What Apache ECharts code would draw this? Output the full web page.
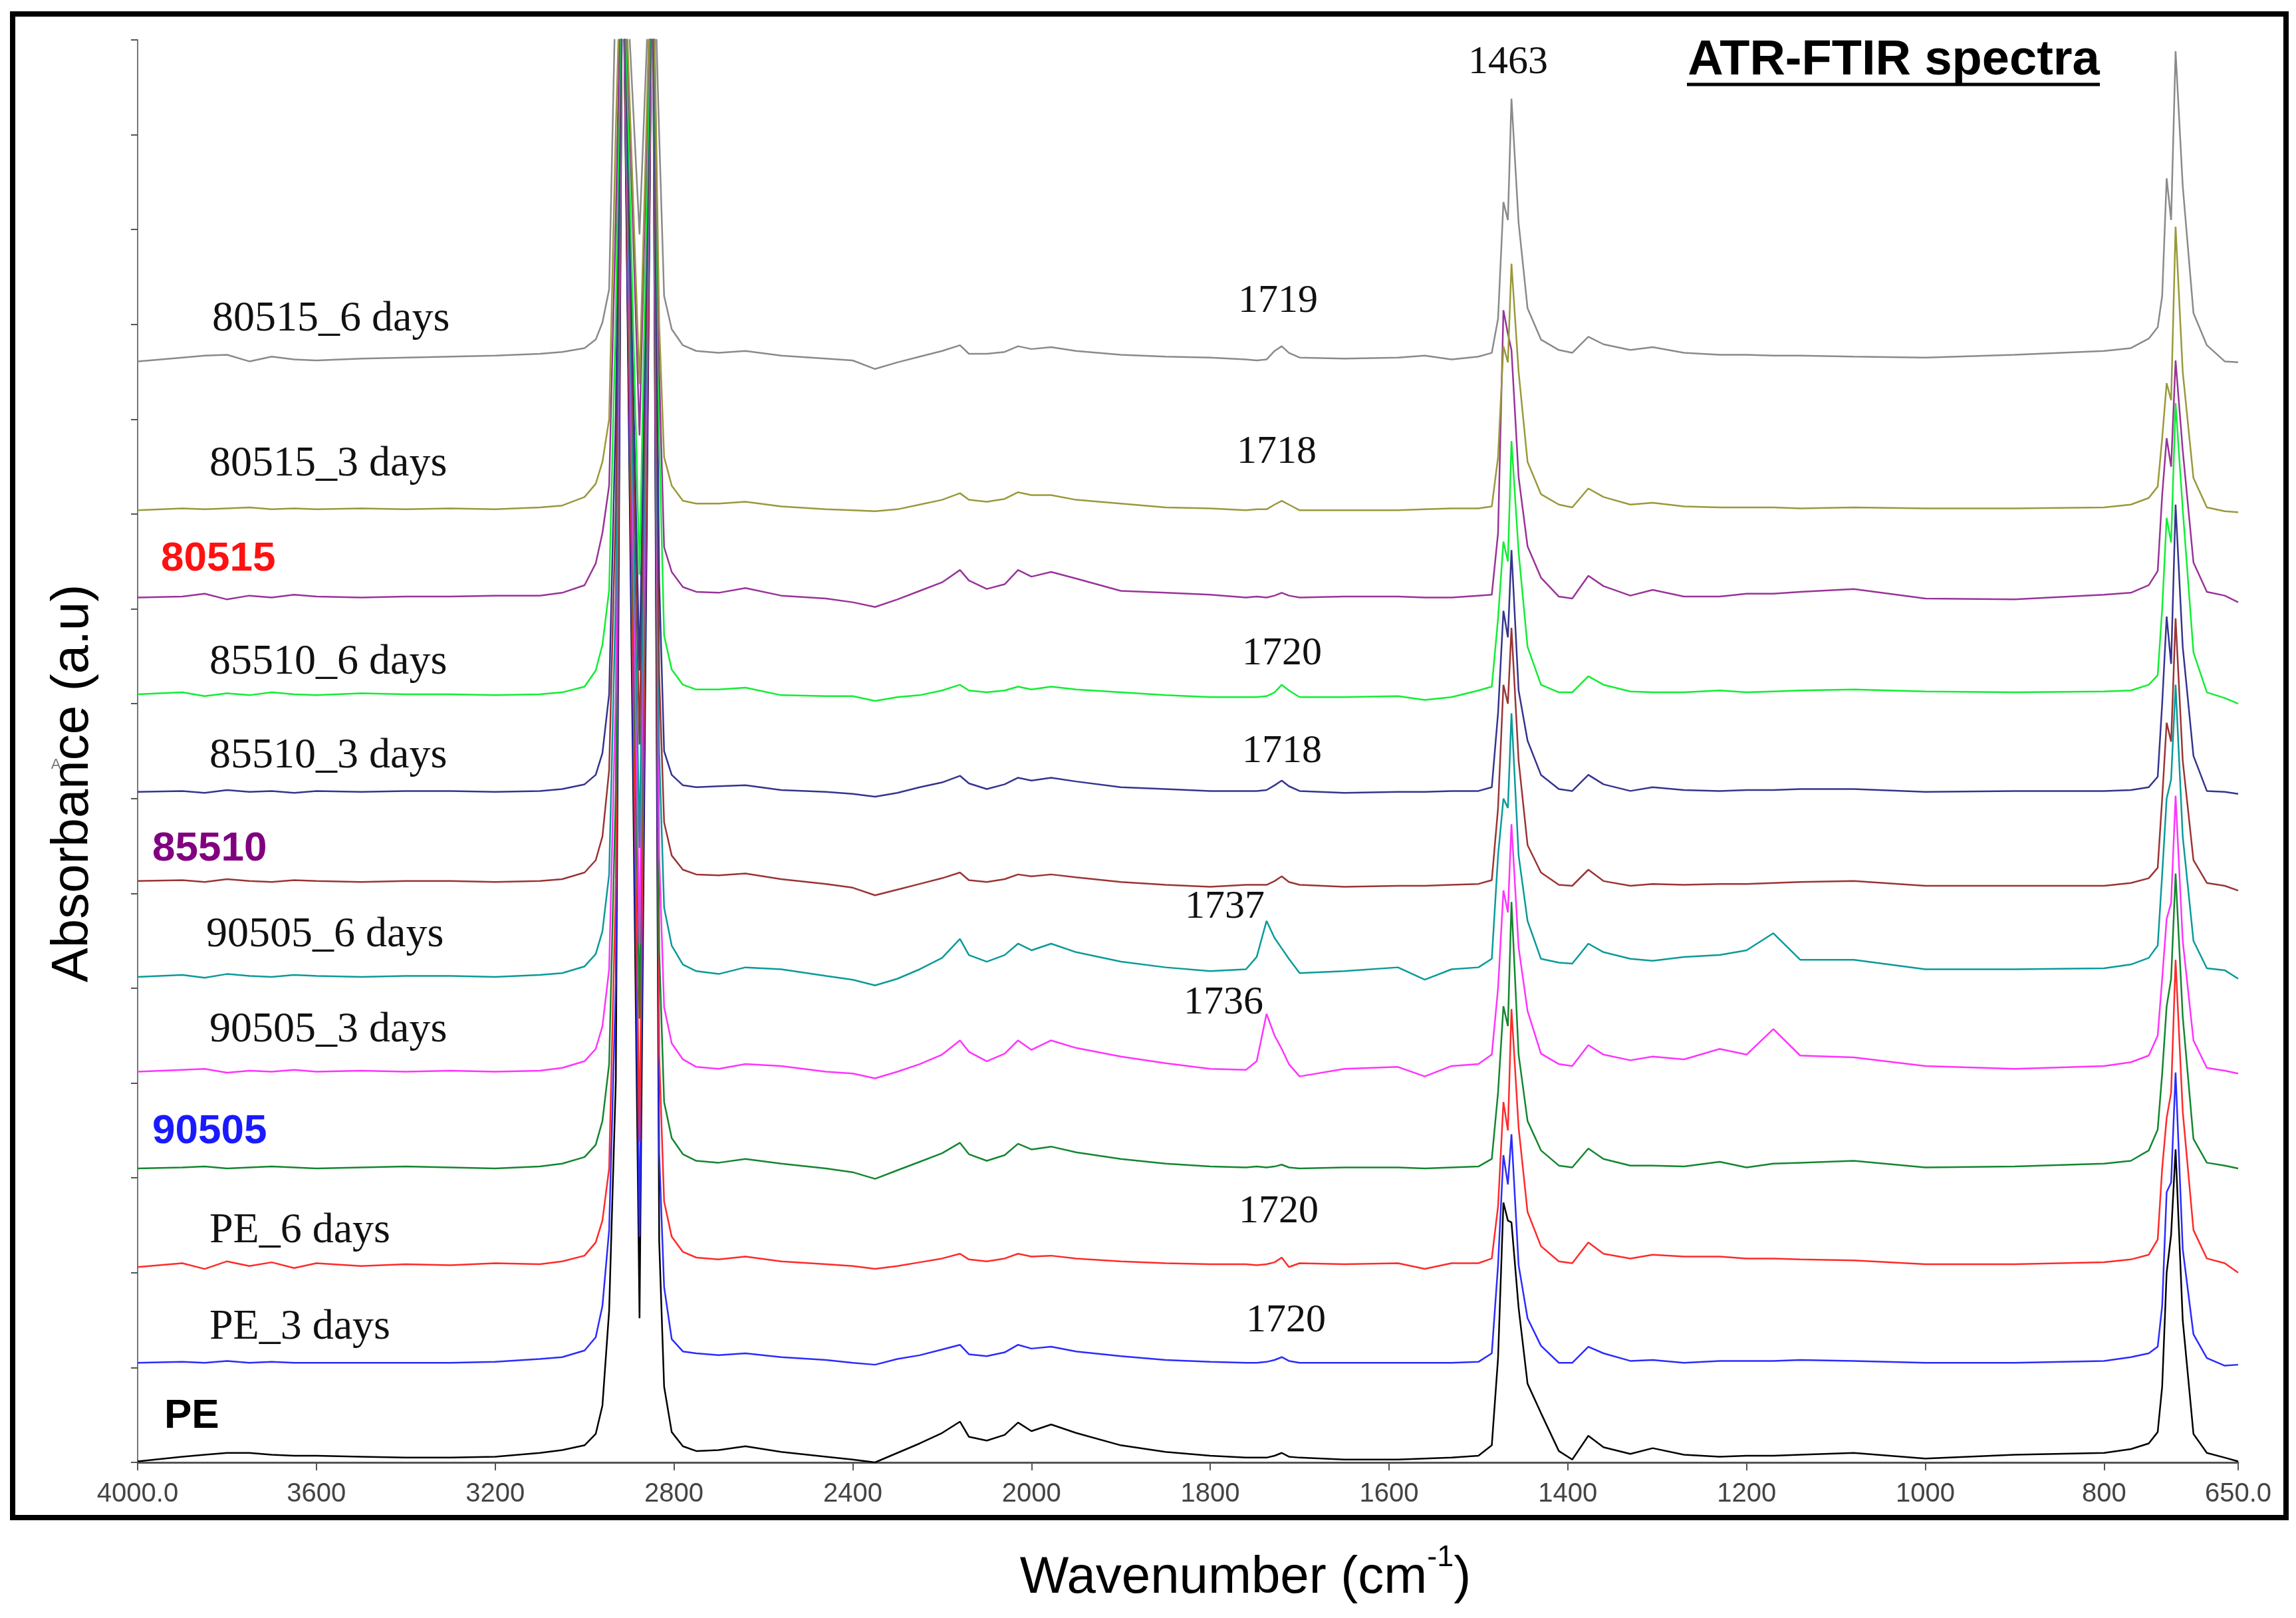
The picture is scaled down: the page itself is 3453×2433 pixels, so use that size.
<!DOCTYPE html>
<html>
<head>
<meta charset="utf-8">
<script src="https://cdn.jsdelivr.net/npm/echarts@6.0.0/dist/echarts.min.js"></script>
<style>
  html, body { margin: 0; padding: 0; background: #fff; }
  #main { width: 3453px; height: 2433px; }
</style>
</head>
<body>
<div id="main"></div>
<script>
// wavenumber grid (cm-1), shared by all traces
var wn = [4000,3900,3850,3800,3750,3700,3650,3600,3500,3400,
  3300,3200,3100,3050,3000,2975,2960,2945,2930,2915,
  2877,2848,2833,2822,2805,2780,2750,2700,2640,2560,
  2460,2400,2350,2300,2250,2200,2160,2140,2100,2060,
  2030,2000,1978,1950,1900,1850,1800,1760,1748,1737,
  1728,1720,1712,1700,1650,1590,1560,1530,1500,1485,
  1478,1472,1467,1463,1455,1445,1430,1410,1395,1377,
  1360,1330,1305,1270,1230,1200,1170,1140,1080,1000,
  900,800,770,750,740,735,730,725,720,712,
  700,685,665,650];

// stacked absorbance traces (a.u.)
var s80515_6d = [11.61,11.65,11.67,11.68,11.61,11.66,11.63,11.62,11.64,11.65,
  11.66,11.67,11.69,11.71,11.75,11.84,12.02,12.37,15.65,16.5,
  12.95,16.5,14.0,12.3,11.95,11.78,11.72,11.70,11.72,11.67,
  11.64,11.62,11.53,11.60,11.66,11.72,11.78,11.69,11.69,11.71,
  11.77,11.74,11.76,11.72,11.68,11.66,11.65,11.63,11.62,11.63,
  11.72,11.77,11.70,11.65,11.64,11.65,11.67,11.63,11.66,11.70,
  12.06,13.29,13.10,14.38,13.07,12.17,11.84,11.73,11.70,11.87,
  11.79,11.73,11.76,11.70,11.68,11.68,11.67,11.67,11.66,11.65,
  11.68,11.72,11.75,11.85,11.97,12.30,13.54,13.10,14.88,13.46,
  12.12,11.78,11.61,11.60];
var s80515_3d = [10.04,10.06,10.05,10.06,10.07,10.05,10.06,10.05,10.06,10.05,
  10.06,10.05,10.07,10.09,10.18,10.32,10.55,11.00,14.07,16.5,
  11.37,16.5,12.00,10.60,10.30,10.14,10.11,10.11,10.13,10.08,
  10.05,10.04,10.03,10.05,10.10,10.15,10.22,10.15,10.13,10.16,
  10.23,10.20,10.20,10.15,10.11,10.07,10.06,10.04,10.05,10.05,
  10.10,10.14,10.10,10.04,10.04,10.04,10.05,10.06,10.06,10.08,
  10.60,11.77,11.60,12.64,11.50,10.55,10.21,10.10,10.07,10.27,
  10.18,10.10,10.12,10.08,10.07,10.07,10.07,10.06,10.07,10.06,
  10.06,10.07,10.10,10.17,10.29,10.80,11.38,11.20,13.03,11.50,
  10.38,10.07,10.03,10.02];
var s80515 = [9.12,9.13,9.16,9.10,9.14,9.12,9.15,9.13,9.12,9.13,
  9.13,9.14,9.14,9.17,9.25,9.48,9.80,10.30,13.13,16.5,
  10.83,16.5,11.50,9.65,9.39,9.23,9.18,9.17,9.22,9.14,
  9.11,9.07,9.02,9.10,9.19,9.28,9.41,9.30,9.21,9.26,
  9.41,9.34,9.39,9.32,9.19,9.17,9.15,9.12,9.13,9.12,
  9.14,9.17,9.14,9.12,9.13,9.13,9.12,9.12,9.14,9.15,
  9.80,12.15,11.90,11.73,10.39,9.66,9.33,9.13,9.11,9.35,
  9.24,9.14,9.20,9.13,9.13,9.16,9.16,9.18,9.21,9.11,
  9.10,9.15,9.17,9.25,9.40,10.20,10.80,10.50,11.62,10.67,
  9.49,9.18,9.14,9.07];
var s85510_6d = [8.10,8.12,8.08,8.11,8.09,8.12,8.10,8.09,8.11,8.10,
  8.10,8.09,8.10,8.12,8.18,8.35,8.62,9.20,12.12,16.5,
  9.36,16.5,10.80,8.72,8.36,8.20,8.15,8.15,8.17,8.09,
  8.08,8.08,8.03,8.07,8.09,8.14,8.20,8.14,8.12,8.14,
  8.18,8.15,8.18,8.15,8.12,8.09,8.07,8.07,8.07,8.08,
  8.12,8.20,8.14,8.07,8.07,8.08,8.04,8.07,8.14,8.18,
  8.90,9.71,9.50,10.77,9.60,8.60,8.20,8.12,8.12,8.29,
  8.20,8.13,8.12,8.12,8.14,8.12,8.13,8.14,8.15,8.13,
  8.12,8.13,8.14,8.20,8.30,9.00,9.96,9.70,11.17,10.05,
  8.54,8.12,8.06,8.00];
var s85510_3d = [7.07,7.08,7.06,7.09,7.07,7.08,7.06,7.08,7.07,7.08,
  7.08,7.07,7.08,7.10,7.15,7.25,7.48,8.10,11.08,16.5,
  8.35,16.5,9.30,7.50,7.25,7.14,7.12,7.13,7.14,7.09,
  7.07,7.05,7.02,7.06,7.12,7.17,7.24,7.16,7.10,7.15,
  7.22,7.19,7.22,7.18,7.12,7.10,7.08,7.08,7.08,7.09,
  7.14,7.19,7.13,7.08,7.06,7.07,7.07,7.08,7.08,7.12,
  7.90,8.98,8.70,9.62,8.14,7.61,7.25,7.10,7.08,7.25,
  7.15,7.08,7.12,7.09,7.08,7.09,7.09,7.10,7.10,7.07,
  7.08,7.08,7.09,7.12,7.23,8.00,8.92,8.42,10.10,8.60,
  7.45,7.08,7.07,7.05];
var s85510 = [6.13,6.14,6.12,6.15,6.13,6.12,6.14,6.13,6.12,6.13,
  6.13,6.12,6.13,6.15,6.22,6.35,6.60,7.30,10.10,16.5,
  7.57,16.5,8.30,6.75,6.40,6.25,6.20,6.19,6.21,6.15,
  6.10,6.06,5.98,6.04,6.10,6.16,6.22,6.14,6.12,6.15,
  6.20,6.18,6.20,6.17,6.12,6.09,6.07,6.09,6.09,6.09,
  6.13,6.18,6.12,6.09,6.07,6.08,6.08,6.09,6.10,6.14,
  6.90,8.20,8.00,8.80,7.40,6.51,6.22,6.09,6.08,6.25,
  6.13,6.08,6.10,6.09,6.10,6.10,6.11,6.12,6.13,6.08,
  6.08,6.08,6.11,6.16,6.27,7.00,7.80,7.60,8.90,7.40,
  6.35,6.11,6.08,6.03];
var s90505_6d = [5.12,5.14,5.11,5.15,5.13,5.12,5.14,5.13,5.12,5.13,
  5.13,5.12,5.14,5.16,5.23,5.36,5.60,6.20,9.15,16.5,
  6.48,16.5,7.50,5.85,5.45,5.25,5.18,5.15,5.22,5.20,
  5.13,5.09,5.03,5.10,5.20,5.32,5.52,5.35,5.28,5.35,
  5.47,5.40,5.47,5.38,5.28,5.22,5.18,5.20,5.33,5.71,
  5.53,5.42,5.31,5.16,5.18,5.22,5.09,5.20,5.22,5.31,
  6.40,7.00,6.90,7.90,6.40,5.71,5.31,5.27,5.26,5.47,
  5.38,5.31,5.29,5.33,5.35,5.40,5.58,5.30,5.30,5.20,
  5.20,5.21,5.25,5.32,5.45,6.20,7.00,7.20,8.20,6.60,
  5.50,5.21,5.19,5.10];
var s90505_3d = [4.12,4.14,4.15,4.11,4.13,4.12,4.14,4.12,4.13,4.12,
  4.13,4.12,4.13,4.16,4.23,4.36,4.60,5.20,8.13,16.5,
  5.46,16.5,6.40,4.80,4.42,4.25,4.17,4.15,4.20,4.18,
  4.12,4.10,4.05,4.12,4.20,4.30,4.45,4.33,4.23,4.31,
  4.45,4.35,4.45,4.37,4.28,4.21,4.15,4.14,4.23,4.73,
  4.50,4.36,4.20,4.07,4.15,4.17,4.07,4.18,4.20,4.30,
  5.00,6.03,5.80,6.73,5.43,4.76,4.31,4.20,4.18,4.40,
  4.30,4.24,4.28,4.25,4.36,4.30,4.57,4.29,4.27,4.18,
  4.15,4.18,4.22,4.29,4.50,5.10,5.73,5.90,7.03,5.50,
  4.45,4.16,4.13,4.10];
var s90505 = [3.10,3.11,3.12,3.10,3.11,3.12,3.11,3.10,3.11,3.12,
  3.11,3.10,3.12,3.15,3.22,3.35,3.60,4.20,7.11,16.5,
  4.68,16.5,5.40,3.80,3.42,3.25,3.18,3.16,3.20,3.15,
  3.10,3.06,2.99,3.08,3.17,3.26,3.37,3.25,3.18,3.24,
  3.36,3.30,3.33,3.27,3.20,3.15,3.12,3.11,3.12,3.11,
  3.12,3.14,3.11,3.10,3.11,3.11,3.10,3.11,3.12,3.20,
  3.90,4.81,4.60,5.91,4.30,3.60,3.29,3.13,3.11,3.31,
  3.20,3.13,3.13,3.12,3.17,3.11,3.15,3.16,3.18,3.11,
  3.12,3.15,3.18,3.29,3.51,4.10,4.81,5.10,6.21,4.70,
  3.41,3.16,3.13,3.10];
var sPE_6d = [2.06,2.10,2.04,2.12,2.07,2.11,2.05,2.10,2.07,2.09,
  2.08,2.10,2.09,2.12,2.18,2.32,2.55,3.10,6.10,16.5,
  3.38,16.5,4.30,2.75,2.38,2.22,2.16,2.14,2.17,2.12,
  2.09,2.07,2.04,2.07,2.11,2.15,2.20,2.14,2.12,2.15,
  2.20,2.17,2.18,2.15,2.12,2.10,2.09,2.09,2.08,2.09,
  2.11,2.16,2.06,2.10,2.09,2.10,2.04,2.10,2.10,2.15,
  2.70,3.80,3.50,4.78,3.53,2.64,2.28,2.12,2.10,2.32,
  2.20,2.15,2.19,2.17,2.17,2.15,2.15,2.14,2.13,2.09,
  2.09,2.11,2.14,2.19,2.35,3.10,3.63,3.90,5.30,3.70,
  2.45,2.15,2.10,2.00];
var sPE_3d = [1.05,1.06,1.05,1.07,1.05,1.06,1.05,1.05,1.05,1.05,
  1.05,1.06,1.09,1.11,1.18,1.32,1.65,2.45,5.05,16.5,
  2.38,16.5,3.25,1.85,1.30,1.17,1.15,1.13,1.15,1.11,
  1.08,1.05,1.03,1.09,1.13,1.19,1.24,1.14,1.12,1.16,
  1.24,1.20,1.22,1.17,1.12,1.08,1.06,1.05,1.05,1.06,
  1.08,1.11,1.07,1.05,1.05,1.05,1.05,1.05,1.06,1.15,
  2.08,3.24,2.93,3.46,2.08,1.52,1.23,1.05,1.05,1.22,
  1.15,1.07,1.08,1.05,1.07,1.07,1.07,1.08,1.07,1.05,
  1.05,1.07,1.11,1.15,1.22,1.65,2.85,2.95,4.11,2.25,
  1.35,1.10,1.02,1.03];
var sPE = [0.01,0.06,0.08,0.10,0.10,0.08,0.07,0.07,0.06,0.05,
  0.05,0.06,0.10,0.13,0.18,0.30,0.60,1.60,4.03,16.5,
  1.52,16.5,2.33,0.80,0.32,0.17,0.12,0.13,0.17,0.11,
  0.06,0.03,0.00,0.10,0.20,0.31,0.43,0.27,0.23,0.29,
  0.42,0.33,0.40,0.31,0.18,0.11,0.07,0.05,0.05,0.05,
  0.07,0.10,0.06,0.05,0.03,0.03,0.04,0.05,0.07,0.18,
  1.10,2.74,2.55,2.53,1.63,0.83,0.52,0.12,0.03,0.28,
  0.16,0.09,0.15,0.08,0.06,0.07,0.07,0.08,0.10,0.04,
  0.08,0.10,0.14,0.20,0.32,0.80,2.00,2.40,3.30,1.50,
  0.30,0.10,0.05,0.01];

var names = ['PE', 'PE_3 days', 'PE_6 days', '90505', '90505_3 days', '90505_6 days',
  '85510', '85510_3 days', '85510_6 days', '80515', '80515_3 days', '80515_6 days'];
var spectra = [sPE, sPE_3d, sPE_6d, s90505, s90505_3d, s90505_6d,
  s85510, s85510_3d, s85510_6d, s80515, s80515_3d, s80515_6d];
var colors = ['#000000', '#2b2bff', '#ff2a2a', '#13862f', '#ff33ff', '#0a9a9a',
  '#9a3434', '#34348f', '#11ee33', '#993399', '#99993a', '#8a8a8a'];

// x axis tick labels (cm-1)
var tickWn = [4000, 3600, 3200, 2800, 2400, 2000, 1800, 1600, 1400, 1200, 1000, 800, 650];

// the instrument plot halves the scale above 2000 cm-1
function toAxis(w) { return w <= 2000 ? w : 2000 + (w - 2000) / 2; }
function fromAxis(x) { return x <= 2000 ? x : 2000 + (x - 2000) * 2; }

var chart = echarts.init(document.getElementById('main'));

var serif = '"Liberation Serif", "Times New Roman", serif';
var sans = '"Liberation Sans", Arial, sans-serif';

function sampleLabel(text, x, y) {
  return { type: 'text', x: x, y: y, style: { text: text, fontSize: 64, fontFamily: serif,
    fill: '#111', align: 'left', verticalAlign: 'middle' } };
}
function boldLabel(text, x, y, color) {
  return { type: 'text', x: x, y: y, style: { text: text, fontSize: 62, fontFamily: sans,
    fontWeight: 'bold', fill: color, align: 'left', verticalAlign: 'middle' } };
}
function peakLabel(text, x, y) {
  return { type: 'text', x: x, y: y, style: { text: text, fontSize: 60, fontFamily: serif,
    fill: '#111', align: 'center', verticalAlign: 'middle' } };
}

var option = {
  animation: false,
  backgroundColor: '#fff',
  grid: { left: 207, right: 87, top: 60, bottom: 234, containLabel: false },
  xAxis: {
    type: 'value',
    min: 650,
    max: 3000,
    inverse: true,
    axisLine: { show: true, onZero: false, lineStyle: { color: '#555', width: 3 } },
    axisTick: { show: true, length: 12, customValues: tickWn.map(toAxis),
      lineStyle: { color: '#555', width: 2 } },
    axisLabel: {
      customValues: tickWn.map(toAxis),
      fontSize: 40, fontFamily: sans, color: '#444', margin: 28,
      formatter: function (v) {
        var w = Math.round(fromAxis(v));
        return (w === 4000 || w === 650) ? w.toFixed(1) : String(w);
      }
    },
    splitLine: { show: false }
  },
  yAxis: {
    type: 'value',
    min: 0,
    max: 15,
    interval: 1,
    axisLine: { show: true, onZero: false, lineStyle: { color: '#777', width: 2 } },
    axisTick: { show: true, length: 10, lineStyle: { color: '#555', width: 2 } },
    axisLabel: { show: false },
    splitLine: { show: false }
  },
  series: names.map(function (n, i) {
    return {
      name: n,
      type: 'line',
      showSymbol: false,
      symbol: 'none',
      clip: true,
      silent: true,
      lineStyle: { color: colors[i], width: 2.5 },
      itemStyle: { color: colors[i] },
      data: wn.map(function (w, j) { return [toAxis(w), spectra[i][j]]; })
    };
  }),
  graphic: [
    { type: 'rect', shape: { x: 19, y: 21, width: 3419, height: 2261 },
      style: { fill: 'none', stroke: '#000', lineWidth: 8 }, z: 100 },
    { type: 'text', x: 2848, y: 92, style: { text: 'ATR-FTIR spectra', fontSize: 74,
      fontFamily: sans, fontWeight: 'bold', fill: '#000', align: 'center', verticalAlign: 'middle' } },
    { type: 'line', shape: { x1: 2537, y1: 127, x2: 3158, y2: 127 },
      style: { stroke: '#000', lineWidth: 5 } },
    { type: 'text', x: 110, y: 1178, rotation: Math.PI / 2, style: { text: 'Absorbance (a.u)',
      fontSize: 78, fontFamily: sans, fill: '#000', align: 'center', verticalAlign: 'middle' } },
    { type: 'text', x: 84, y: 1150, style: { text: 'A', fontSize: 22, fontFamily: sans,
      fill: '#777', align: 'center', verticalAlign: 'middle' } },
    { type: 'text', x: 1873, y: 2366, style: {
      text: '{a|Wavenumber (cm}{b|-1}{a|)}',
      align: 'center', verticalAlign: 'middle',
      rich: {
        a: { fontSize: 78, fontFamily: sans, fill: '#000', lineHeight: 92, verticalAlign: 'bottom' },
        b: { fontSize: 45, fontFamily: sans, fill: '#000', lineHeight: 45, verticalAlign: 'top' }
      } } },
    sampleLabel('80515_6 days', 319, 480),
    sampleLabel('80515_3 days', 315, 698),
    boldLabel('80515', 242, 841, '#ff1111'),
    sampleLabel('85510_6 days', 315, 996),
    sampleLabel('85510_3 days', 315, 1137),
    boldLabel('85510', 229, 1277, '#800080'),
    sampleLabel('90505_6 days', 310, 1406),
    sampleLabel('90505_3 days', 315, 1549),
    boldLabel('90505', 229, 1702, '#1a1aff'),
    sampleLabel('PE_6 days', 315, 1851),
    sampleLabel('PE_3 days', 315, 1996),
    boldLabel('PE', 247, 2130, '#000'),
    peakLabel('1463', 2268, 94),
    peakLabel('1719', 1922, 453),
    peakLabel('1718', 1920, 680),
    peakLabel('1720', 1928, 983),
    peakLabel('1718', 1928, 1130),
    peakLabel('1737', 1842, 1364),
    peakLabel('1736', 1840, 1508),
    peakLabel('1720', 1923, 1822),
    peakLabel('1720', 1934, 1986)
  ]
};

chart.setOption(option);
</script>
</body>
</html>
